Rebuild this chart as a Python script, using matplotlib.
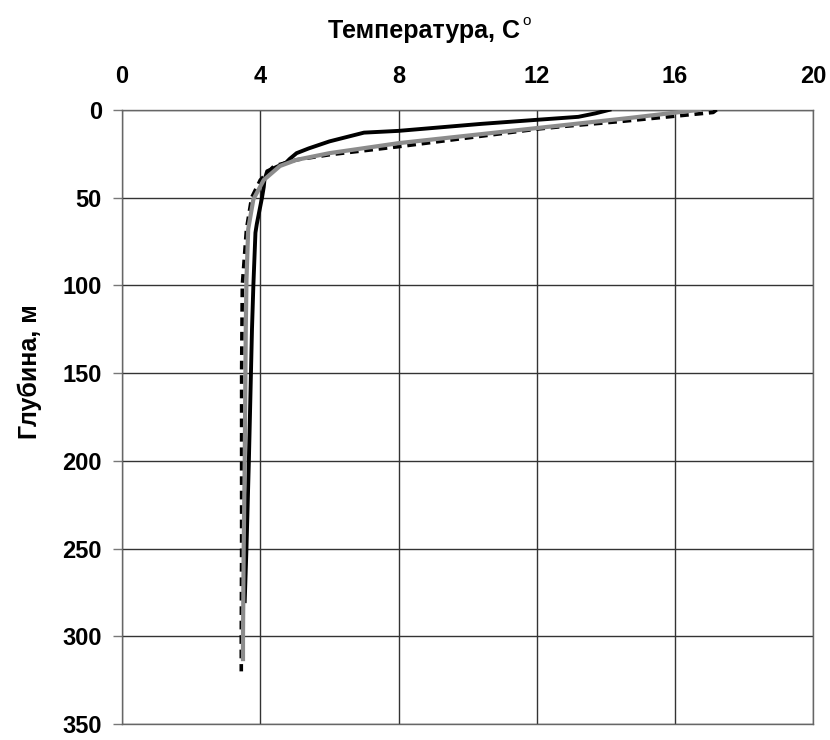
import matplotlib
matplotlib.use("Agg")
import matplotlib.pyplot as plt

# температура (C) по глубине (м), три профиля
depth_1 = [0, 2, 4, 5.7, 8, 12, 13, 15, 18, 22, 24.7, 28, 30, 35, 40, 44, 50, 55, 60, 65, 70, 80, 100, 125, 150, 200, 250, 280]
temp_1 = [14.1, 13.7, 13.2, 12.0, 10.4, 8.0, 7.0, 6.6, 6.0, 5.4, 5.05, 4.85, 4.75, 4.2, 4.12, 4.1, 4.05, 4.0, 3.95, 3.9, 3.86, 3.84, 3.8, 3.76, 3.73, 3.67, 3.6, 3.55]

depth_2 = [0, 4.6, 10.4, 19, 24.7, 28.5, 32, 40, 51, 68, 97, 125, 200, 250, 300, 313]
temp_2 = [16.7, 14.7, 12.0, 8.0, 6.0, 5.05, 4.57, 4.1, 3.8, 3.65, 3.6, 3.58, 3.55, 3.52, 3.5, 3.5]

depth_3 = [0, 1.5, 6.7, 9.5, 11, 21, 25.6, 28.5, 32, 40, 50, 68, 100, 150, 200, 250, 300, 320]
temp_3 = [17.2, 17.1, 14.4, 12.75, 12.0, 8.0, 6.0, 5.05, 4.4, 4.0, 3.75, 3.6, 3.48, 3.46, 3.46, 3.46, 3.45, 3.45]

xticks = [0, 4, 8, 12, 16, 20]
yticks = [0, 50, 100, 150, 200, 250, 300, 350]

plt.rcParams['font.family'] = ['Liberation Sans', 'DejaVu Sans']
fig = plt.figure(figsize=(8.3, 7.4), dpi=100)
ax = fig.add_axes([0.147, 0.0216, 0.833, 0.83])

ax.plot(temp_3, depth_3, color="black", lw=2.6, dashes=(2.4, 1.6), zorder=3)
ax.plot(temp_1, depth_1, color="black", lw=2.8, zorder=4)
ax.plot(temp_2, depth_2, color="#8c8c8c", lw=3.0, zorder=5)

ax.set_xlim(0, 20)
ax.set_ylim(350, 0)
ax.set_xticks(xticks)
ax.set_yticks(yticks)
ax.xaxis.tick_top()
ax.tick_params(axis="x", length=0, labelsize=17, pad=16)
ax.tick_params(axis="y", length=6.5, width=1, color="#777777", labelsize=17, pad=8)
for lab in ax.get_xticklabels() + ax.get_yticklabels():
    lab.set_fontweight("bold")
ax.grid(True, color="#333333", lw=1)
for s in ax.spines.values():
    s.set_color("#666666")
    s.set_linewidth(1)

fig.text(424 / 830, 1 - 31 / 740, "Температура, С", ha="center", va="center",
         fontsize=18, fontweight="bold")
fig.text(522 / 830, 1 - 21 / 740, "o", ha="left", va="center", fontsize=11)
fig.text(30 / 830, 1 - 372 / 740, "Глубина, м", ha="center", va="center",
         rotation=90, fontsize=18, fontweight="bold")

fig.savefig("out.png", dpi=100)
